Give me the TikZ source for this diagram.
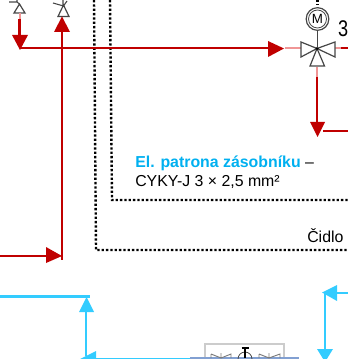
\documentclass[tikz,border=0pt]{standalone}
\usepackage{fontspec}
\setmainfont{Liberation Sans}
\definecolor{pipered}{RGB}{192,0,0}
\definecolor{pipeblue}{RGB}{51,204,255}
\definecolor{labelblue}{RGB}{0,176,240}
\definecolor{paleline}{RGB}{240,150,150}
\definecolor{gline}{RGB}{70,70,70}
\definecolor{steel}{RGB}{130,160,210}
\tikzset{
  x=0.75pt,y=-0.75pt,
  redpipe/.style={draw=pipered,line width=2pt},
  bluepipe/.style={draw=pipeblue,line width=2pt},
  palepipe/.style={draw=paleline,line width=1.6pt},
  redtip/.style={fill=pipered,draw=none},
  bluetip/.style={fill=pipeblue,draw=none},
  valve/.style={draw=gline,line width=0.9pt,fill=white,line join=miter},
  dots/.style={draw=black,line width=1.8pt,dash pattern=on 1.7pt off 1.55pt},
  lab/.style={inner sep=0pt,anchor=base west,font=\fontsize{11.9pt}{14pt}\selectfont},
}
\begin{document}
\begin{tikzpicture}
\useasboundingbox (0,0) rectangle (348,359);
% dotted
\draw[dots] (94,0) -- (96,250) -- (348,250);
\draw[dots] (110,0) -- (112,200) -- (348,200);
\draw[dots] (317.500,0) -- (317.500,5);
% small valves
\draw[valve] (14,13) -- (25,13) -- (19.500,4) -- cycle;
\draw[gline,line width=0.8pt] (9,2) -- (17,2) -- (17,0) (19.500,4) -- (17,2);
\draw[valve] (58,16.500) -- (69,16.500) -- (63.500,5) -- cycle;
\draw[gline,line width=0.8pt] (53,3) -- (63.500,6) -- (67,1) (63,0) -- (63,6);
% red pipes
\draw[palepipe] (19.700,13) -- (19.700,19);
\draw[redpipe] (19.700,19) -- (19.700,36);
\draw[redpipe] (19.700,48) -- (278,48);
\draw[redpipe] (62,30) -- (62,260);
\draw[redpipe] (0,256) -- (50,256);
\draw[palepipe] (285,48) -- (301,48);
\draw[palepipe] (335,48) -- (341,48);
\draw[redpipe] (341,48) -- (348,48);
\draw[palepipe] (317,67) -- (317,77);
\draw[redpipe] (317,77) -- (317,123);
\draw[redpipe] (323,131) -- (348,131);
\path[redtip] (12,35) -- (28,35) -- (20,50) -- cycle;
\path[redtip] (54,32) -- (70,32) -- (62,16.500) -- cycle;
\path[redtip] (268,41) -- (268,57) -- (284,48.500) -- cycle;
\path[redtip] (46,247) -- (46,263) -- (62,256) -- cycle;
\path[redtip] (310,122) -- (325,122) -- (317.500,137) -- cycle;
% 3-way valve
\draw[valve] (317,48.500) -- (301,42) -- (301,57) -- cycle;
\draw[valve] (317,48.500) -- (335,42) -- (335,57) -- cycle;
\draw[valve] (317,48.500) -- (310,66) -- (324.500,66) -- cycle;
\fill[black] (317,48.500) circle (1.5);
\draw[gline,line width=0.9pt] (317.500,48) -- (317.500,30);
\node[circle,draw=gline,line width=0.9pt,fill=white,minimum size=17pt,inner sep=0pt] (motor) at (317.500,19) {};
\node[circle,draw=gline,line width=0.6pt,minimum size=13.500pt,inner sep=0pt,font=\fontsize{10pt}{11pt}\selectfont] (motorin) at (317.500,19) {M};
\node[lab,font=\fontsize{17pt}{19pt}\selectfont,xscale=0.8] (three) at (338,37) {3};
% labels
\node[lab] (patrona) at (135,168) {\textcolor{labelblue}{\bfseries El. patrona zásobníku} –};
\node[lab] (cyky) at (135,186.500) {CYKY-J 3 × 2,5 mm²};
\node[lab] (cidlo) at (307,242) {Čidlo};
% blue pipes
\draw[bluepipe] (0,296.500) -- (90,296.500);
\draw[bluepipe] (86,305) -- (86,356);
\path[bluetip] (79,312) -- (94,312) -- (86.500,297) -- cycle;
\draw[pipeblue,line width=1.2pt] (86,358.500) -- (190,358.500);
\path[bluetip] (80,359) -- (96,351) -- (96,359) -- cycle;
\draw[bluepipe] (325,293) -- (348,293);
\draw[bluepipe] (325,293) -- (325,350);
\path[bluetip] (322,292.500) -- (337,285) -- (337,301) -- cycle;
\path[bluetip] (317,349) -- (333,349) -- (325,362) -- cycle;
% bottom fitting
\draw[draw=gray!40,line width=0.8pt] (205,359) -- (205,344) -- (284,344) -- (284,359);
\draw[draw=steel,line width=1.8pt] (190,358.500) -- (299,358.500);
\draw[gline!70,line width=0.7pt] (211,354) -- (221,358) -- (231,354) -- (231,358) (211,354) -- (211,358) (259,354) -- (269,358) -- (280,354) -- (280,358) (259,354) -- (259,358) (221,358) -- (221,353) (269,358) -- (269,353);
\draw[gline,line width=0.6pt] (245,359) circle (7);
\draw[black,line width=1.1pt] (245,348) -- (245,358) (241.500,348) -- (248.500,348);
\end{tikzpicture}
\end{document}
